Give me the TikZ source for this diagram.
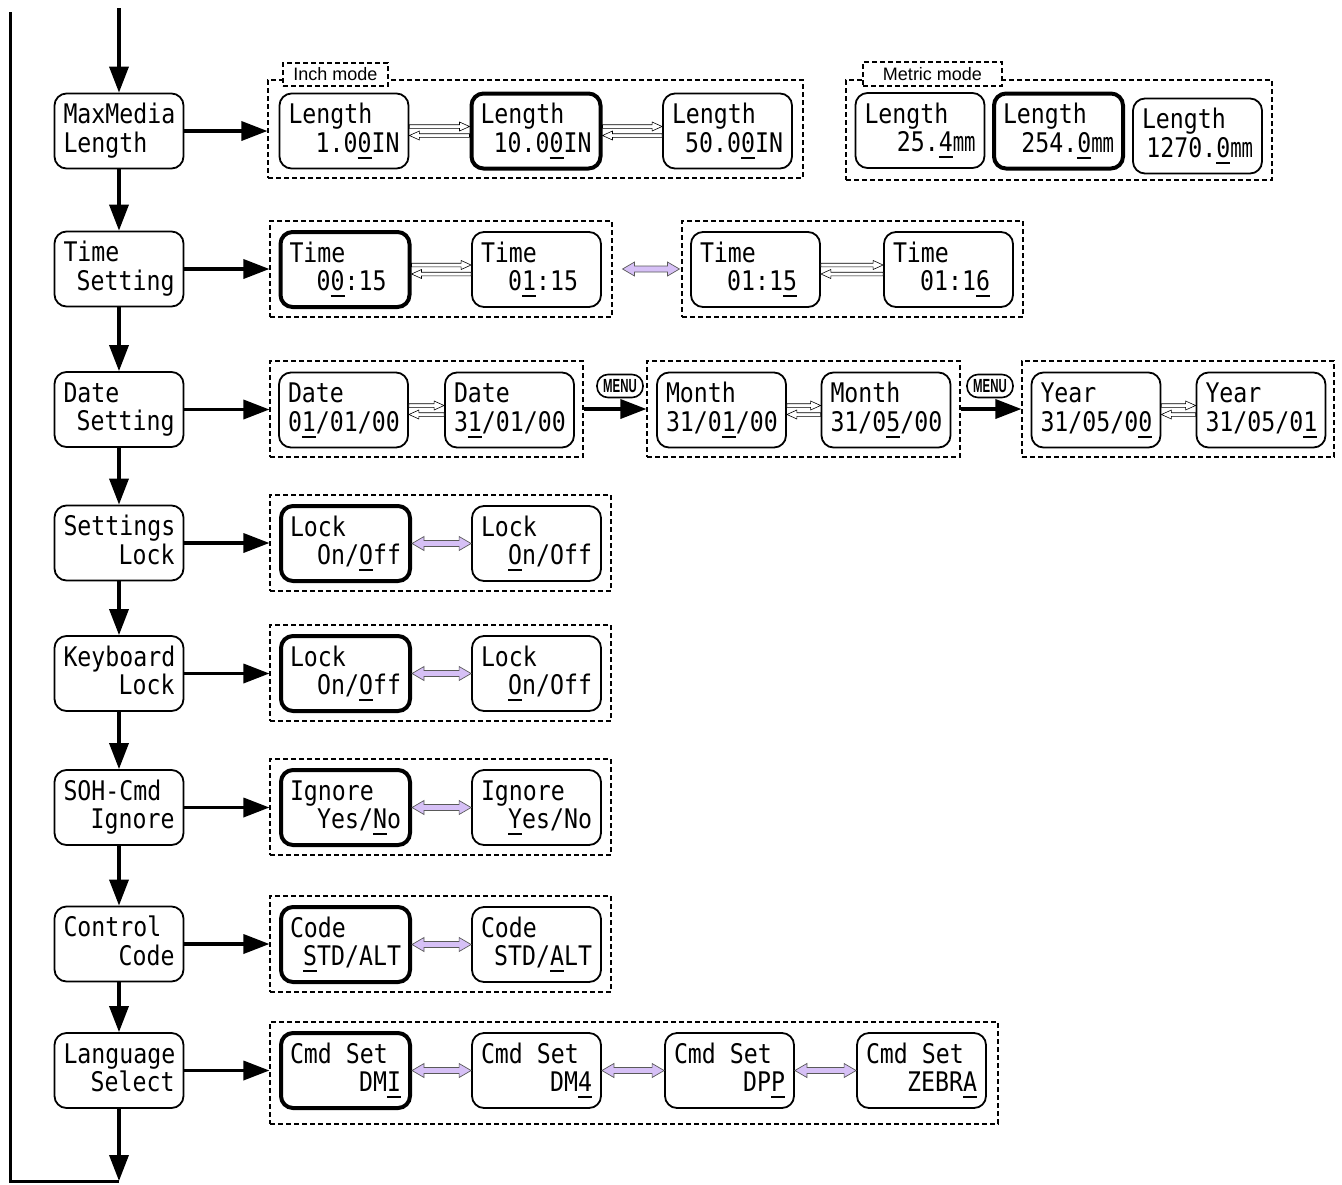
\documentclass[tikz,border=0pt]{standalone}
\usepackage{fontspec}
\setmainfont{Liberation Sans}
\newfontfamily\lcdfont[FakeStretch=0.86]{DejaVu Sans Mono}
\newfontfamily\mmfont[FakeStretch=0.7]{DejaVu Sans Mono}
\newfontfamily\menufont[FakeStretch=0.6]{Liberation Sans}
\usetikzlibrary{arrows.meta,calc}
\newlength\lcdw \setlength\lcdw{111pt}
\newcommand\lcdtwo[2]{\vbox{\baselineskip=28.5pt\lineskiplimit=-30pt
  \hbox to\lcdw{\vrule height21pt depth0pt width0pt #1\hfil}
  \hbox to\lcdw{\hfil #2\vrule height0pt depth7pt width0pt}}}
\newcommand\ulc[1]{\setbox0=\hbox{#1}\rlap{\vrule width\wd0 height -4.5pt depth 6.5pt}\box0}
\newcommand\mmu{{\mmfont mm}}
\definecolor{lav}{RGB}{214,192,246}
\newcommand\openpair[2]{%
 \draw[fill=white,line width=0.6pt] let \p1=(#1.east), \p2=(#2.west) in
  (\x1,\y1+6.3pt) -- (\x2-10pt,\y1+6.3pt) -- (\x2-10pt,\y1+9pt) -- (\x2,\y1+4.5pt) -- (\x2-10pt,\y1+0pt) -- (\x2-10pt,\y1+2.7pt) -- (\x1,\y1+2.7pt) -- cycle
  (\x2,\y1-2.7pt) -- (\x1+10pt,\y1-2.7pt) -- (\x1+10pt,\y1-0pt) -- (\x1,\y1-4.5pt) -- (\x1+10pt,\y1-9pt) -- (\x1+10pt,\y1-6.3pt) -- (\x2,\y1-6.3pt) -- cycle;}
\newcommand\purp[2]{%
 \draw[draw=black!65,fill=lav,line width=0.7pt] let \p1=#1, \p2=#2 in
  (\x1,\y1) -- (\x1+12pt,\y1+7pt) -- (\x1+12pt,\y1+3pt) -- (\x2-12pt,\y1+3pt) -- (\x2-12pt,\y1+7pt) -- (\x2,\y1) -- (\x2-12pt,\y1-7pt) -- (\x2-12pt,\y1-3pt) -- (\x1+12pt,\y1-3pt) -- (\x1+12pt,\y1-7pt) -- cycle;}
\tikzset{
  lcd/.style={draw, fill=white, rounded corners=12pt, line width=1.8pt, minimum width=129pt, minimum height=75pt, inner sep=0pt, font=\lcdfont\fontsize{27}{28}\selectfont},
  sel/.style={lcd, line width=4pt},
  grp/.style={draw, dash pattern=on 5pt off 3pt, line width=1.1pt, inner sep=0pt},
  modelabel/.style={grp, fill=white, font=\fontsize{18}{18}\selectfont},
  big/.style={line width=3.5pt, -{Triangle[length=26pt,width=19pt]}},
  menu/.style={draw, fill=white, line width=1.6pt, rounded corners=11pt, minimum width=46pt, minimum height=23pt, inner sep=0pt, font=\menufont\bfseries\fontsize{19}{19}\selectfont}
}
\begin{document}
\begin{tikzpicture}[x=1pt,y=-1pt]
\useasboundingbox[fill=white] (0,0) rectangle (1342,1184);
% left column
\node[lcd] (lm1) at (119,131) {\lcdtwo{MaxMedia}{Length\hfill}};
\node[lcd] (lm2) at (119,269) {\lcdtwo{Time}{Setting}};
\node[lcd] (lm3) at (119,409.5) {\lcdtwo{Date}{Setting}};
\node[lcd] (lm4) at (119,543) {\lcdtwo{Settings}{Lock}};
\node[lcd] (lm5) at (119,673.5) {\lcdtwo{Keyboard}{Lock}};
\node[lcd] (lm6) at (119,807.5) {\lcdtwo{SOH-Cmd}{Ignore}};
\node[lcd] (lm7) at (119,944) {\lcdtwo{Control}{Code}};
\node[lcd] (lm8) at (119,1070.5) {\lcdtwo{Language}{Select}};
\coordinate (topin) at (119,8);
\coordinate (botout) at (119,1181);
\coordinate (ltop) at (10,12);
\draw[big] (topin) -- (lm1.north);
\draw[big] (lm1.south) -- (lm2.north);
\draw[big] (lm2.south) -- (lm3.north);
\draw[big] (lm3.south) -- (lm4.north);
\draw[big] (lm4.south) -- (lm5.north);
\draw[big] (lm5.south) -- (lm6.north);
\draw[big] (lm6.south) -- (lm7.north);
\draw[big] (lm7.south) -- (lm8.north);
\draw[big] (lm8.south) -- (botout);
\draw[line width=3pt] (ltop) -- (ltop |- botout) -- (botout);
% row 1 inch
\node[grp, minimum width=535pt, minimum height=98pt] (g1) at (535.5,129) {};
\node[modelabel, minimum width=105pt, minimum height=23pt] (inch) at (335.5,74.5) {Inch mode};
\node[lcd] (n11) at (344,131) {\lcdtwo{Length}{1.0\ulc{0}IN}};
\node[sel] (n12) at (536,131) {\lcdtwo{Length}{10.0\ulc{0}IN}};
\node[lcd] (n13) at (727.5,131) {\lcdtwo{Length}{50.0\ulc{0}IN}};
\openpair{n11}{n12}
\openpair{n12}{n13}
\draw[big] (lm1.east) -- (lm1.east -| g1.west);
% row 1 metric
\node[grp, minimum width=426pt, minimum height=100pt] (g1m) at (1059,130) {};
\node[modelabel, minimum width=139pt, minimum height=24pt] (metric) at (932.5,74) {Metric mode};
\node[lcd] (m1) at (920,130.5) {\lcdtwo{Length}{25.\ulc{4}\mmu}};
\node[sel] (m2) at (1058.5,131) {\lcdtwo{Length}{254.\ulc{0}\mmu}};
\node[lcd] (m3) at (1197.5,136) {\lcdtwo{Length}{1270.\ulc{0}\mmu}};
% row 2
\node[grp, minimum width=342pt, minimum height=96pt] (g2a) at (441,269) {};
\node[sel] (t1) at (345,269.5) {\lcdtwo{Time}{0\ulc{0}:15\phantom{0}}};
\node[lcd] (t2) at (536.5,269.5) {\lcdtwo{Time}{0\ulc{1}:15\phantom{0}}};
\openpair{t1}{t2}
\node[grp, minimum width=341pt, minimum height=96pt] (g2b) at (852.5,269) {};
\node[lcd] (t3) at (755.5,269.5) {\lcdtwo{Time}{01:1\ulc{5}\phantom{0}}};
\node[lcd] (t4) at (948.5,269.5) {\lcdtwo{Time}{01:1\ulc{6}\phantom{0}}};
\openpair{t3}{t4}
\purp{($(g2a.east)+(10,0)$)}{($(g2b.west)+(-2,0)$)}
\draw[big] (lm2.east) -- (lm2.east -| g2a.west);
% row 3
\node[grp, minimum width=313pt, minimum height=96pt] (g3a) at (426.5,409) {};
\node[lcd] (d1) at (343.5,410) {\lcdtwo{Date}{0\ulc{1}/01/00}};
\node[lcd] (d2) at (509.5,410) {\lcdtwo{Date}{3\ulc{1}/01/00}};
\openpair{d1}{d2}
\node[grp, minimum width=313pt, minimum height=96pt] (g3b) at (803.5,409) {};
\node[lcd] (mo1) at (721.5,410) {\lcdtwo{Month}{31/0\ulc{1}/00}};
\node[lcd] (mo2) at (886,410) {\lcdtwo{Month}{31/0\ulc{5}/00}};
\openpair{mo1}{mo2}
\node[grp, minimum width=312pt, minimum height=96pt] (g3c) at (1178,409) {};
\node[lcd] (y1) at (1096,410) {\lcdtwo{Year}{31/05/0\ulc{0}}};
\node[lcd] (y2) at (1261,410) {\lcdtwo{Year}{31/05/0\ulc{1}}};
\openpair{y1}{y2}
\draw[big] (lm3.east) -- (lm3.east -| g3a.west);
\draw[big] (g3a.east) -- (g3b.west);
\draw[big] (g3b.east) -- (g3c.west);
\node[menu] (mn1) at (620,386) {MENU};
\node[menu] (mn2) at (990,386) {MENU};
% row 4
\node[grp, minimum width=341pt, minimum height=96pt] (g4) at (440.5,543) {};
\node[sel] (s1) at (345.5,543.5) {\lcdtwo{Lock}{On/\ulc{O}ff}};
\node[lcd] (s2) at (536.5,543.5) {\lcdtwo{Lock}{\ulc{O}n/Off}};
\purp{(s1.east)}{(s2.west)}
\draw[big] (lm4.east) -- (lm4.east -| g4.west);
% row 5
\node[grp, minimum width=341pt, minimum height=96pt] (g5) at (440.5,673) {};
\node[sel] (k1) at (345.5,673.5) {\lcdtwo{Lock}{On/\ulc{O}ff}};
\node[lcd] (k2) at (536.5,673.5) {\lcdtwo{Lock}{\ulc{O}n/Off}};
\purp{(k1.east)}{(k2.west)}
\draw[big] (lm5.east) -- (lm5.east -| g5.west);
% row 6
\node[grp, minimum width=341pt, minimum height=96pt] (g6) at (440.5,807) {};
\node[sel] (i1) at (345.5,807.5) {\lcdtwo{Ignore}{Yes/\ulc{N}o}};
\node[lcd] (i2) at (536.5,807.5) {\lcdtwo{Ignore}{\ulc{Y}es/No}};
\purp{(i1.east)}{(i2.west)}
\draw[big] (lm6.east) -- (lm6.east -| g6.west);
% row 7
\node[grp, minimum width=341pt, minimum height=96pt] (g7) at (440.5,944) {};
\node[sel] (c1) at (345.5,944.5) {\lcdtwo{Code}{\ulc{S}TD/ALT}};
\node[lcd] (c2) at (536.5,944.5) {\lcdtwo{Code}{STD/\ulc{A}LT}};
\purp{(c1.east)}{(c2.west)}
\draw[big] (lm7.east) -- (lm7.east -| g7.west);
% row 8
\node[grp, minimum width=728pt, minimum height=102pt] (g8) at (634,1073) {};
\node[sel] (l1) at (345.5,1070.5) {\lcdtwo{Cmd Set}{DM\ulc{I}}};
\node[lcd] (l2) at (536.5,1070.5) {\lcdtwo{Cmd Set}{DM\ulc{4}}};
\node[lcd] (l3) at (729.5,1070.5) {\lcdtwo{Cmd Set}{DP\ulc{P}}};
\node[lcd] (l4) at (921.5,1070.5) {\lcdtwo{Cmd Set}{ZEBR\ulc{A}}};
\purp{(l1.east)}{(l2.west)}
\purp{(l2.east)}{(l3.west)}
\purp{(l3.east)}{(l4.west)}
\draw[big] (lm8.east) -- (lm8.east -| g8.west);
\end{tikzpicture}
\end{document}
